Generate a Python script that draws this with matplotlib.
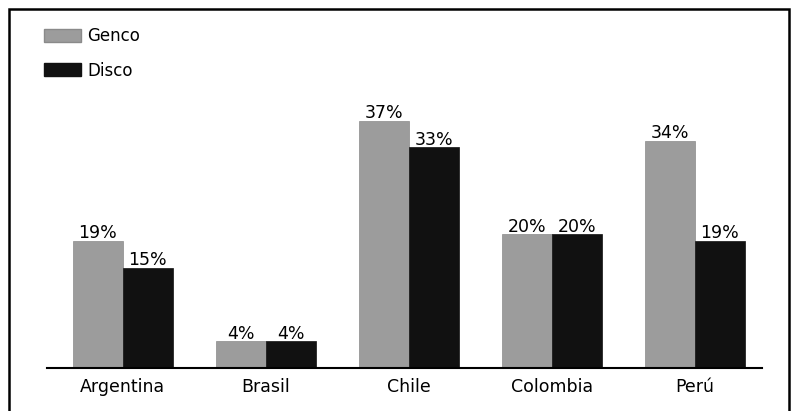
import matplotlib
matplotlib.use("Agg")
import matplotlib.pyplot as plt
from matplotlib.patches import Rectangle, Patch
import numpy as np

countries = ["Argentina", "Brasil", "Chile", "Colombia", "Perú"]
genco = [19, 4, 37, 20, 34]
disco = [15, 4, 33, 20, 19]

fig = plt.figure(figsize=(7.91, 4.11), dpi=100)
fig.patch.set_facecolor("white")

# outer frame
fig.add_artist(Rectangle((9 / 791, -0.01), 780 / 791, 1 - 9 / 411 + 0.01,
                         transform=fig.transFigure, fill=False,
                         edgecolor="black", linewidth=1.8))

ax = fig.add_axes([47 / 791, 43 / 411, 715 / 791, 301 / 411])
x = np.arange(len(countries))
w = 0.35
b1 = ax.bar(x - w / 2, genco, w, color="#9c9c9c", edgecolor="#8a8a8a", linewidth=0.5)
b2 = ax.bar(x + w / 2, disco, w, color="#111111", edgecolor="#111111", linewidth=0.5)

ax.bar_label(b1, labels=[f"{v}%" for v in genco], fontsize=12.5, padding=-1)
ax.bar_label(b2, labels=[f"{v}%" for v in disco], fontsize=12.5, padding=-1)

ax.set_xlim(-0.53, 4.47)
ax.set_ylim(0, 45)
ax.set_xticks(x)
ax.set_xticklabels(countries, fontsize=12.5)
ax.tick_params(axis="x", length=0, pad=7)
ax.set_yticks([])
for s in ["top", "right", "left"]:
    ax.spines[s].set_visible(False)
ax.spines["bottom"].set_linewidth(1.5)

handles = [Patch(facecolor="#9c9c9c", edgecolor="#8a8a8a"),
           Patch(facecolor="#111111", edgecolor="#111111")]
fig.legend(handles, ["Genco", "Disco"], loc="upper left",
           bbox_to_anchor=(44 / 791, 1 - 27 / 411), frameon=False,
           fontsize=12, handlelength=2.2, handleheight=0.8,
           handletextpad=0.4, labelspacing=1.0, borderpad=0,
           borderaxespad=0)

fig.savefig("out.png", dpi=100)
